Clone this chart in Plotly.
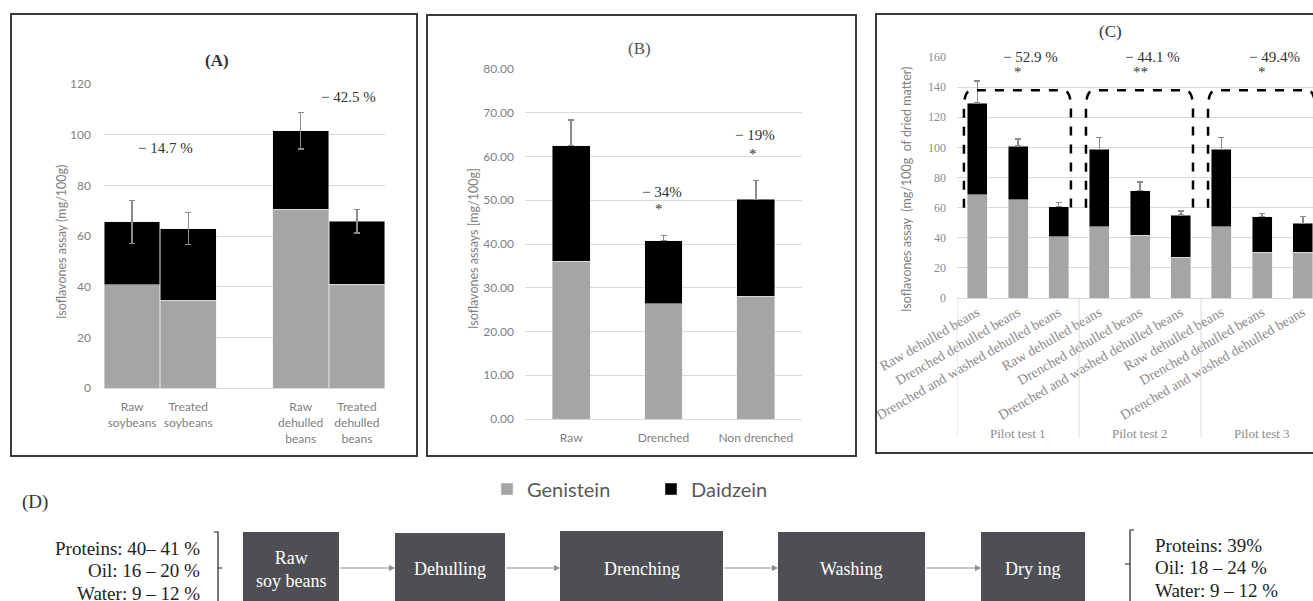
import plotly.graph_objects as go

W, H = 1313, 601

# ---------------- data ----------------
a_categories = ["Raw<br>soybeans", "Treated<br>soybeans", "Raw<br>dehulled<br>beans", "Treated<br>dehulled<br>beans"]
a_positions = [0, 1, 3, 4]
a_genistein = [40.7, 34.7, 70.5, 40.9]
a_daidzein = [24.9, 28.2, 31.1, 24.9]
a_error = [8.5, 6.3, 7.2, 4.7]

b_categories = ["Raw", "Drenched", "Non drenched"]
b_genistein = [36.1, 26.3, 28.1]
b_daidzein = [26.4, 14.5, 22.1]
b_error = [5.8, 1.2, 4.3]

c_categories = ["Raw dehulled beans", "Drenched dehulled beans", "Drenched and washed dehulled beans"] * 3
c_positions = list(range(9))
c_groups = ["Pilot test 1", "Pilot test 2", "Pilot test 3"]
c_genistein = [68.4, 65.1, 40.7, 47.3, 41.8, 27.0, 47.3, 30.3, 30.3]
c_daidzein = [60.9, 35.8, 19.9, 51.4, 29.5, 28.1, 51.4, 23.7, 19.3]
c_error = [14.7, 4.7, 2.7, 8.0, 5.7, 2.5, 8.0, 2.2, 4.4]
c_reductions = ["− 52.9 %", "− 44.1 %", "− 49.4%"]
c_signif = ["*", "**", "*"]

flow_steps = ["Raw<br>soy beans", "Dehulling", "Drenching", "Washing", "Dry ing"]
composition_before = ["Proteins: 40– 41 %", "Oil: 16 – 20 %", "Water: 9 – 12 %"]
composition_after = ["Proteins: 39%", "Oil: 18 – 24 %", "Water: 9 – 12 %"]

GEN_COLOR = "#A5A5A5"
DAI_COLOR = "#000000"
ERR_COLOR = "#8C8C8C"
GRID = "#D9D9D9"
SERIF = "Liberation Serif, Times New Roman, serif"
SANS = "Lato, Carlito, Liberation Sans, sans-serif"


def px(x):
    return x / W


def py(y):
    return 1 - y / H


fig = go.Figure()

# ---------------- panel A ----------------
fig.add_trace(go.Bar(x=a_positions, y=a_genistein, name="Genistein", marker_color=GEN_COLOR,
                     width=0.99, xaxis="x", yaxis="y", legendgroup="g", showlegend=True))
fig.add_trace(go.Bar(x=a_positions, y=a_daidzein, name="Daidzein", marker_color=DAI_COLOR,
                     width=0.99, xaxis="x", yaxis="y", legendgroup="d", showlegend=True,
                     error_y=dict(type="data", array=a_error, symmetric=True, color=ERR_COLOR,
                                  thickness=1.5, width=3)))
# ---------------- panel B ----------------
fig.add_trace(go.Bar(x=b_categories, y=b_genistein, name="Genistein", marker_color=GEN_COLOR,
                     width=0.41, xaxis="x2", yaxis="y2", legendgroup="g", showlegend=False))
fig.add_trace(go.Bar(x=b_categories, y=b_daidzein, name="Daidzein", marker_color=DAI_COLOR,
                     width=0.41, xaxis="x2", yaxis="y2", legendgroup="d", showlegend=False,
                     error_y=dict(type="data", array=b_error, arrayminus=[0] * len(b_error),
                                  symmetric=False, color=ERR_COLOR, thickness=1.5, width=3)))
# ---------------- panel C ----------------
fig.add_trace(go.Bar(x=c_positions, y=c_genistein, name="Genistein", marker_color=GEN_COLOR,
                     width=0.49, xaxis="x3", yaxis="y3", legendgroup="g", showlegend=False))
fig.add_trace(go.Bar(x=c_positions, y=c_daidzein, name="Daidzein", marker_color=DAI_COLOR,
                     width=0.49, xaxis="x3", yaxis="y3", legendgroup="d", showlegend=False,
                     error_y=dict(type="data", array=c_error, arrayminus=[0] * len(c_error),
                                  symmetric=False, color=ERR_COLOR, thickness=1.5, width=3)))

tickfont_sans = dict(family=SANS, size=12, color="#7F7F7F")
tickfont_serif = dict(family=SERIF, size=12, color="#8C8C8C")

fig.update_layout(
    width=W, height=H, margin=dict(l=0, r=0, t=0, b=0, autoexpand=False),
    paper_bgcolor="white", plot_bgcolor="white",
    barmode="stack",
    showlegend=True,
    legend=dict(orientation="h", x=px(487), y=py(489), xanchor="left", yanchor="middle",
                font=dict(family=SANS, size=20, color="#595959"),
                entrywidth=119, entrywidthmode="pixels", bgcolor="rgba(0,0,0,0)"),
    xaxis=dict(domain=[px(104), px(385)], range=[-0.5, 4.5], tickvals=a_positions,
               ticktext=a_categories, tickfont=tickfont_sans, showgrid=False,
               showline=True, linecolor=GRID, linewidth=1, ticks="", zeroline=False,
               ticklabelstandoff=8, automargin=False),
    yaxis=dict(domain=[py(388), py(84)], range=[0, 120], dtick=20, gridcolor=GRID,
               tickfont=tickfont_sans, zeroline=False, showline=False, ticklabelstandoff=12,
               anchor="x", automargin=False),
    xaxis2=dict(domain=[px(525), px(802)], tickfont=tickfont_sans, showgrid=False,
                showline=True, linecolor=GRID, linewidth=1, ticks="", anchor="y2",
                ticklabelstandoff=8, automargin=False),
    yaxis2=dict(domain=[py(419), py(69)], range=[0, 80], dtick=10, tickformat=".2f",
                gridcolor=GRID, tickfont=tickfont_sans, zeroline=False, anchor="x2",
                ticklabelstandoff=10, automargin=False),
    xaxis3=dict(domain=[px(957), 1.0], range=[-0.5, 8.25], tickvals=c_positions,
                ticktext=c_categories, tickangle=-30,
                tickfont=dict(family=SERIF, size=14, color="#8C8C8C"), showgrid=False,
                showline=True, linecolor=GRID, linewidth=1, ticks="", anchor="y3",
                automargin=False),
    yaxis3=dict(domain=[py(298), py(57)], range=[0, 160], dtick=20, gridcolor=GRID,
                tickfont=tickfont_serif, zeroline=False, anchor="x3", ticklabelstandoff=10,
                automargin=False),
)

shapes = []
annotations = []

# panel borders
for x0, y0, x1, y1 in [(11, 14, 417, 456), (427, 15, 856, 456), (876, 14, 1325, 453)]:
    shapes.append(dict(type="rect", xref="paper", yref="paper", x0=px(x0), x1=px(x1),
                       y0=py(y1), y1=py(y0), line=dict(color="#3A3A3A", width=2)))

# panel titles
annotations += [
    dict(text="<b>(A)</b>", x=px(217), y=py(60), font=dict(family=SERIF, size=17, color="#333")),
    dict(text="(B)", x=px(639), y=py(48), font=dict(family=SERIF, size=17, color="#555")),
    dict(text="(C)", x=px(1110), y=py(32), font=dict(family=SERIF, size=17, color="#333")),
    dict(text="(D)", x=px(35), y=py(502), font=dict(family=SERIF, size=19, color="#333")),
]

# y-axis titles
annotations += [
    dict(text="Isoflavones assay (mg/100g)", x=px(62), y=py(242), textangle=-90,
         font=dict(family=SANS, size=12.5, color="#7F7F7F")),
    dict(text="Isoflavones assays [mg/100g]", x=px(473), y=py(249), textangle=-90,
         font=dict(family=SANS, size=12.5, color="#7F7F7F")),
    dict(text="Isoflavones assay  (mg/100g  of dried matter)", x=px(907), y=py(190), textangle=-90,
         font=dict(family=SANS, size=12.5, color="#7F7F7F")),
]

# reduction labels
ann_font = dict(family=SERIF, size=15, color="#333")
annotations += [
    dict(text="− 14.7 %", x=px(165), y=py(148), font=ann_font),
    dict(text="− 42.5 %", x=px(348), y=py(97), font=ann_font),
    dict(text="− 34%", x=px(662), y=py(192), font=ann_font),
    dict(text="*", x=px(659), y=py(209), font=ann_font),
    dict(text="− 19%", x=px(755), y=py(135), font=ann_font),
    dict(text="*", x=px(753), y=py(154), font=ann_font),
]
for i, (red, sig) in enumerate(zip(c_reductions, c_signif)):
    xc = 3 * i + 1
    annotations.append(dict(text=red, x=xc + 0.3, y=160, xref="x3", yref="y3",
                            font=ann_font, bgcolor="white"))
    annotations.append(dict(text=sig, x=xc, y=150, xref="x3", yref="y3", font=ann_font))

# dashed group brackets in panel C
for i in range(3):
    L, R = 3 * i - 0.33, 3 * i + 2 + 0.3
    path = (f"M {L},60 L {L},126 Q {L},138 {L + 0.2},138 L {R - 0.2},138 "
            f"Q {R},138 {R},126 L {R},60")
    shapes.append(dict(type="path", xref="x3", yref="y3", path=path,
                       line=dict(color="black", width=2.5, dash="dash")))

# group separators and labels in panel C
for i in range(4):
    shapes.append(dict(type="line", xref="x3", yref="paper", x0=3 * i - 0.5, x1=3 * i - 0.5,
                       y0=py(437), y1=py(298), line=dict(color=GRID, width=1)))
for i, g in enumerate(c_groups):
    annotations.append(dict(text=g, x=3 * i + 1, y=py(433), xref="x3", yref="paper",
                            font=dict(family=SERIF, size=13, color="#8C8C8C")))

# ---------------- panel D: flow diagram ----------------
boxes = [(243, 339, 532), (395, 505, 533), (560, 723, 531), (778, 925, 532), (981, 1085, 532)]
for (x0, x1, y0), label in zip(boxes, flow_steps):
    shapes.append(dict(type="rect", xref="paper", yref="paper", x0=px(x0), x1=px(x1),
                       y0=py(615), y1=py(y0), fillcolor="#4E4F55", line=dict(width=0)))
    annotations.append(dict(text=label, x=px((x0 + x1) / 2), y=py(569),
                            font=dict(family=SERIF, size=18, color="white")))
for (a, b) in zip(boxes[:-1], boxes[1:]):
    annotations.append(dict(text="", x=px(b[0]), y=py(568), ax=a[1] - b[0], ay=0,
                            showarrow=True, arrowhead=2, arrowsize=1, arrowwidth=1.2,
                            arrowcolor="#8C8C8C"))

# composition text
for i, t in enumerate(composition_before):
    annotations.append(dict(text=t, x=px(202), y=py(548 + 22.5 * i), xanchor="right",
                            font=dict(family=SERIF, size=19, color="#222")))
for i, t in enumerate(composition_after):
    annotations.append(dict(text=t, x=px(1153), y=py(545 + 22.5 * i), xanchor="left",
                            font=dict(family=SERIF, size=19, color="#222")))

# side brackets
shapes.append(dict(type="path", xref="paper", yref="paper",
                   path=f"M {px(214)},{py(532)} L {px(218)},{py(532)} L {px(218)},{py(615)} "
                        f"M {px(218)},{py(568)} L {px(222)},{py(568)}",
                   line=dict(color="#222", width=1.2)))
shapes.append(dict(type="path", xref="paper", yref="paper",
                   path=f"M {px(1134)},{py(530)} L {px(1130)},{py(530)} L {px(1130)},{py(615)} "
                        f"M {px(1130)},{py(564)} L {px(1125)},{py(564)}",
                   line=dict(color="#222", width=1.2)))

for a in annotations:
    a.setdefault("xref", "paper")
    a.setdefault("yref", "paper")
    a.setdefault("showarrow", False)
    a.setdefault("xanchor", "center")
    a.setdefault("yanchor", "middle")

fig.update_layout(shapes=shapes, annotations=annotations)
fig.write_html("out.html", config={"displayModeBar": False},
               post_script="document.body.style.margin='0px';")
